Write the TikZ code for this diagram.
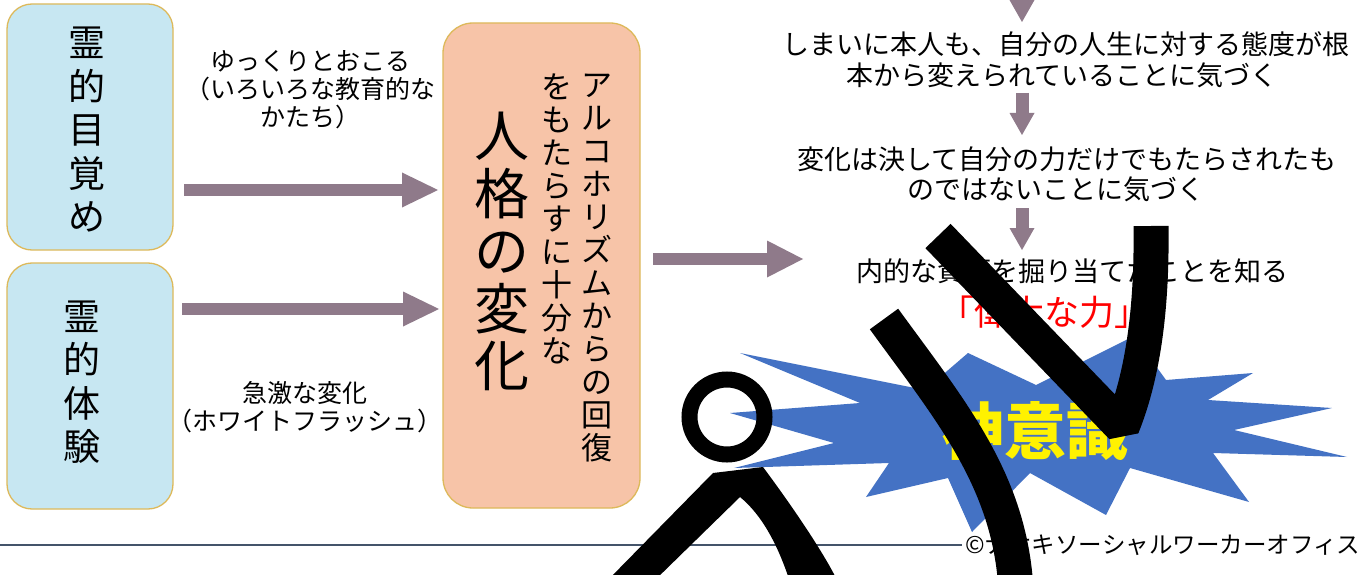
\documentclass[tikz,border=0pt]{standalone}
\usepackage{fontspec}
\newfontfamily\jp{Noto Sans CJK JP}
\usetikzlibrary{arrows.meta,calc}

\definecolor{boxblue}{HTML}{C7E7F2}
\definecolor{boxedge}{HTML}{DDB95A}
\definecolor{boxsalmon}{HTML}{F7C4A8}
\definecolor{flowmauve}{HTML}{8F7A8A}
\definecolor{rulegray}{HTML}{44546A}
\definecolor{burstblue}{HTML}{4472C4}

% Japanese font at a given size and line pitch
\newcommand\jpsize[2]{\jp\fontsize{#1}{#2}\selectfont}

\begin{document}
\begin{tikzpicture}[x=1pt,y=-1pt,
  every node/.style={inner sep=0pt,outer sep=0pt},
  panel/.style={draw=boxedge,line width=1.3pt,rounded corners=25pt},
  stack/.style={align=center},
  label/.style={align=center,font=\jpsize{25}{28}},
  rtext/.style={font=\jpsize{27}{30},text height=23.8pt,text depth=3.2pt},
  flowh/.style={color=flowmauve,line width=12pt,
    -{Triangle[length=36pt,width=35pt,line width=0pt]}},
  flowv/.style={color=flowmauve,line width=13pt,
    -{Triangle[length=22pt,width=25pt,line width=0pt]}},
  stroke/.style={line width=35pt,line cap=butt}
]
\clip (0,0) rectangle (1363,575);
\fill[white] (0,0) rectangle (1363,575);

% ---- left panels -------------------------------------------------
\node[panel,fill=boxblue,minimum width=166pt,minimum height=246pt] (awaken) at (90,127) {};
\node[panel,fill=boxblue,minimum width=166pt,minimum height=246pt] (experience) at (90,386) {};
\node[stack,font=\jpsize{37}{43.5}] (awakenText) at (87,130) {霊\\的\\目\\覚\\め};
\node[stack,font=\jpsize{37}{43.5}] (experienceText) at (82,382) {霊\\的\\体\\験};

% ---- central panel with vertical text ----------------------------
\node[panel,fill=boxsalmon,rounded corners=30pt,minimum width=197pt,minimum height=485pt] (change) at (541.5,265.5) {};
\node[stack,font=\jpsize{31}{33}] (colA) at (597,268.5) {ア\\ル\\コ\\ホ\\リ\\ズ\\ム\\か\\ら\\の\\回\\復};
\node[stack,font=\jpsize{31}{33}] (colB) at (557,218.5) {を\\も\\た\\ら\\す\\に\\十\\分\\な};
\node[stack,font=\jpsize{55}{57.4}] (colC) at (502,251.5) {人\\格\\の\\変\\化};

% ---- labels of the two routes ------------------------------------
\node[label] (slowLabel) at (310,90) {ゆっくりとおこる\\（いろいろな教育的な\\かたち）};
\node[label] (suddenLabel) at (305,407) {急激な変化\\（ホワイトフラッシュ）};

\draw[flowh] ($(awaken.east)+(11,63)$) -- ($(change.west)+(-5,-75.5)$);
\draw[flowh] ($(experience.east)+(9,-77)$) -- ($(change.west)+(-4,43.5)$);
\coordinate (rightEntry) at (803,259);
\draw[flowh,-{Triangle[length=36pt,width=37pt,line width=0pt]}] ($(change.east)+(13,-6.5)$) -- (rightEntry);

% ---- right column of steps ---------------------------------------
\coordinate (axis) at (1022,0);
\node[rtext] (t1) at (1066,44) {しまいに本人も、自分の人生に対する態度が根};
\node[rtext] (t2) at (1062,75) {本から変えられていることに気づく};
\node[rtext] (t3) at (1067,159) {変化は決して自分の力だけでもたらされたも};
\node[rtext] (t4) at (1056,189) {のではないことに気づく};
\node[rtext] (t5) at (1072,271) {内的な資源を掘り当てたことを知る};
\node[font=\jpsize{35}{38},text=red] (power) at (1044,312) {「偉大な力」};

\draw[flowv] ($(axis)+(0,-40)$) -- ($(axis |- t1.north)+(0,-8.5)$);
\draw[flowv] ($(axis |- t2.south)+(0,4.5)$) -- ($(axis |- t3.north)+(0,-10.5)$);
\draw[flowv] ($(axis |- t4.south)+(0,5.5)$) -- ($(axis |- t5.north)+(0,-7.5)$);

% ---- footer rule and credit ---------------------------------------
\node[anchor=east,font=\jpsize{23.5}{26}] (credit) at (1360,545) {©ナオキソーシャルワーカーオフィス};
\coordinate (ruleStart) at (0,545);
\draw[rulegray,line width=2.2pt] (ruleStart) -- ($(credit.west |- ruleStart)+(-3,0)$);

% ---- burst ---------------------------------------------------------
\fill[burstblue] (740,353) -- (925,390) -- (968,353) -- (1036,385) -- (1134,336)
  -- (1166,380) -- (1253,373) -- (1208,400) -- (1332,408) -- (1234,430)
  -- (1347,457) -- (1213,453) -- (1249,502) -- (1130,468) -- (1106,515)
  -- (1030,473) -- (972,532) -- (948,478) -- (866,497) -- (889,463)
  -- (734,468) -- (834,443) -- (730,413) -- (860,403) -- cycle;
\node[font=\jpsize{62}{62}\bfseries,text=yellow] (godmind) at (1035,431) {神意識};

% ---- black figure strokes -------------------------------------------
\draw[line width=16pt] (727,417) circle[radius=37.5pt];
\fill (606,582) -- (713,473) -- (763,467) .. controls (795,510) and (825,555) .. (838,582)
  -- (790,582) .. controls (778,545) and (762,515) .. (740,497) -- (653,582) -- cycle;
\draw[stroke] (884,319) .. controls (950,410) and (1010,480) .. (1016,590);
\draw[stroke,line join=bevel] (938,236) -- (1122,427) .. controls (1145,370) and (1152,300) .. (1151,226);
\end{tikzpicture}
\end{document}
